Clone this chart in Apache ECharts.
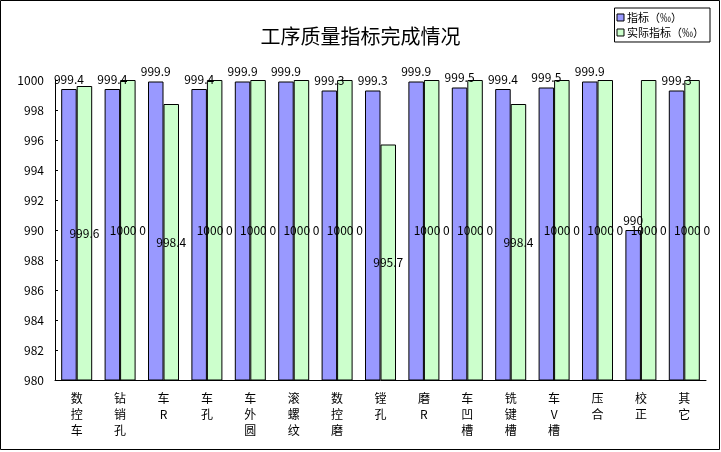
<!DOCTYPE html>
<html>
<head>
	<meta charset="utf-8">
	<title>工序质量指标完成情况</title>
	<style>
		html, body { margin: 0; padding: 0; background: #fff; }
		#chart { width: 721px; height: 452px; }
	</style>
</head>
<body>
	<div id="chart"></div>
<script type="text/javascript" src="https://cdn.jsdelivr.net/npm/echarts@6/dist/echarts.min.js"></script>
<script type="text/javascript">
	var processNames = ['数控车','钻销孔','车R','车孔','车外圆','滚螺纹','数控磨','镗孔','磨R','车凹槽','铣键槽','车V槽','压合','校正','其它'];
	var targetVals = [999.4, 999.4, 999.9, 999.4, 999.9, 999.9, 999.3, 999.3, 999.9, 999.5, 999.4, 999.5, 999.9, 990, 999.3];
	var actualVals = [999.6, 1000, 998.4, 1000, 1000, 1000, 1000, 995.7, 1000, 1000, 998.4, 1000, 1000, 1000, 1000];
	// 实际值标签后面跟着的 "0"
	var actualExtra = ['', '0', '', '0', '0', '0', '0', '', '0', '0', '', '0', '0', '0', '0'];
	var yTicks = [980, 982, 984, 986, 988, 990, 992, 994, 996, 998, 1000];

	var font = '"Noto Sans CJK SC", "Noto Sans", sans-serif';
	var myChart = echarts.init(document.getElementById('chart'));

	var option = {
		backgroundColor: '#fff',
		textStyle: { fontFamily: font, color: '#000' },
		animation: false,
		graphic: [{
			type: 'rect',
			shape: { x: 0.5, y: 0.5, width: 719, height: 449 },
			style: { fill: 'none', stroke: '#000', lineWidth: 1 }
		}],
		title: {
			text: '工序质量指标完成情况',
			left: 'center',
			top: 21,
			textStyle: { fontFamily: font, fontSize: 20, fontWeight: 'normal', color: '#000' }
		},
		legend: {
			orient: 'vertical',
			right: 11,
			top: 8,
			padding: [4, 6, 4, 2],
			itemGap: 4,
			itemWidth: 7,
			itemHeight: 7,
			icon: 'rect',
			borderColor: '#000',
			borderWidth: 1,
			itemStyle: { borderColor: '#000', borderWidth: 1 },
			textStyle: { fontFamily: font, fontSize: 11, color: '#000', padding: [0, 0, 0, -2] },
			data: ['指标（‰）', '实际指标（‰）']
		},
		grid: {
			left: 55,
			right: 15,
			top: 80,
			bottom: 72
		},
		xAxis: {
			type: 'category',
			data: processNames,
			axisLine: { lineStyle: { color: '#000', width: 1 } },
			axisTick: { inside: true, length: 3, lineStyle: { color: '#000' } },
			axisLabel: {
				interval: 0,
				margin: 10,
				fontSize: 12,
				lineHeight: 16,
				color: '#000',
				formatter: function (v) { return v.split('').join('\n'); }
			}
		},
		yAxis: {
			type: 'value',
			min: 980,
			max: 1000,
			interval: 2,
			axisLine: { show: true, lineStyle: { color: '#000', width: 1 } },
			axisTick: { show: true, inside: true, length: 3, lineStyle: { color: '#000' } },
			splitLine: { show: false },
			axisLabel: {
				margin: 11,
				fontSize: 12,
				color: '#000',
				customValues: yTicks,
				formatter: function (v) { return String(v); }
			}
		},
		series: [
			{
				name: '指标（‰）',
				type: 'bar',
				data: targetVals,
				barWidth: 15.5,
				barGap: '0%',
				itemStyle: { color: '#9999FF', borderColor: '#000', borderWidth: 1 },
				label: {
					show: true,
					position: 'top',
					distance: 4,
					fontSize: 12,
					color: '#000'
				}
			},
			{
				name: '实际指标（‰）',
				type: 'bar',
				data: actualVals,
				barWidth: 15.5,
				itemStyle: { color: '#CCFFCC', borderColor: '#000', borderWidth: 1 },
				label: {
					show: true,
					position: 'inside',
					fontSize: 12,
					color: '#000',
					formatter: function (p) {
						var extra = actualExtra[p.dataIndex];
						return extra ? p.value + ' ' + extra : String(p.value);
					}
				}
			}
		]
	};

	myChart.setOption(option);
</script>
</body>
</html>
